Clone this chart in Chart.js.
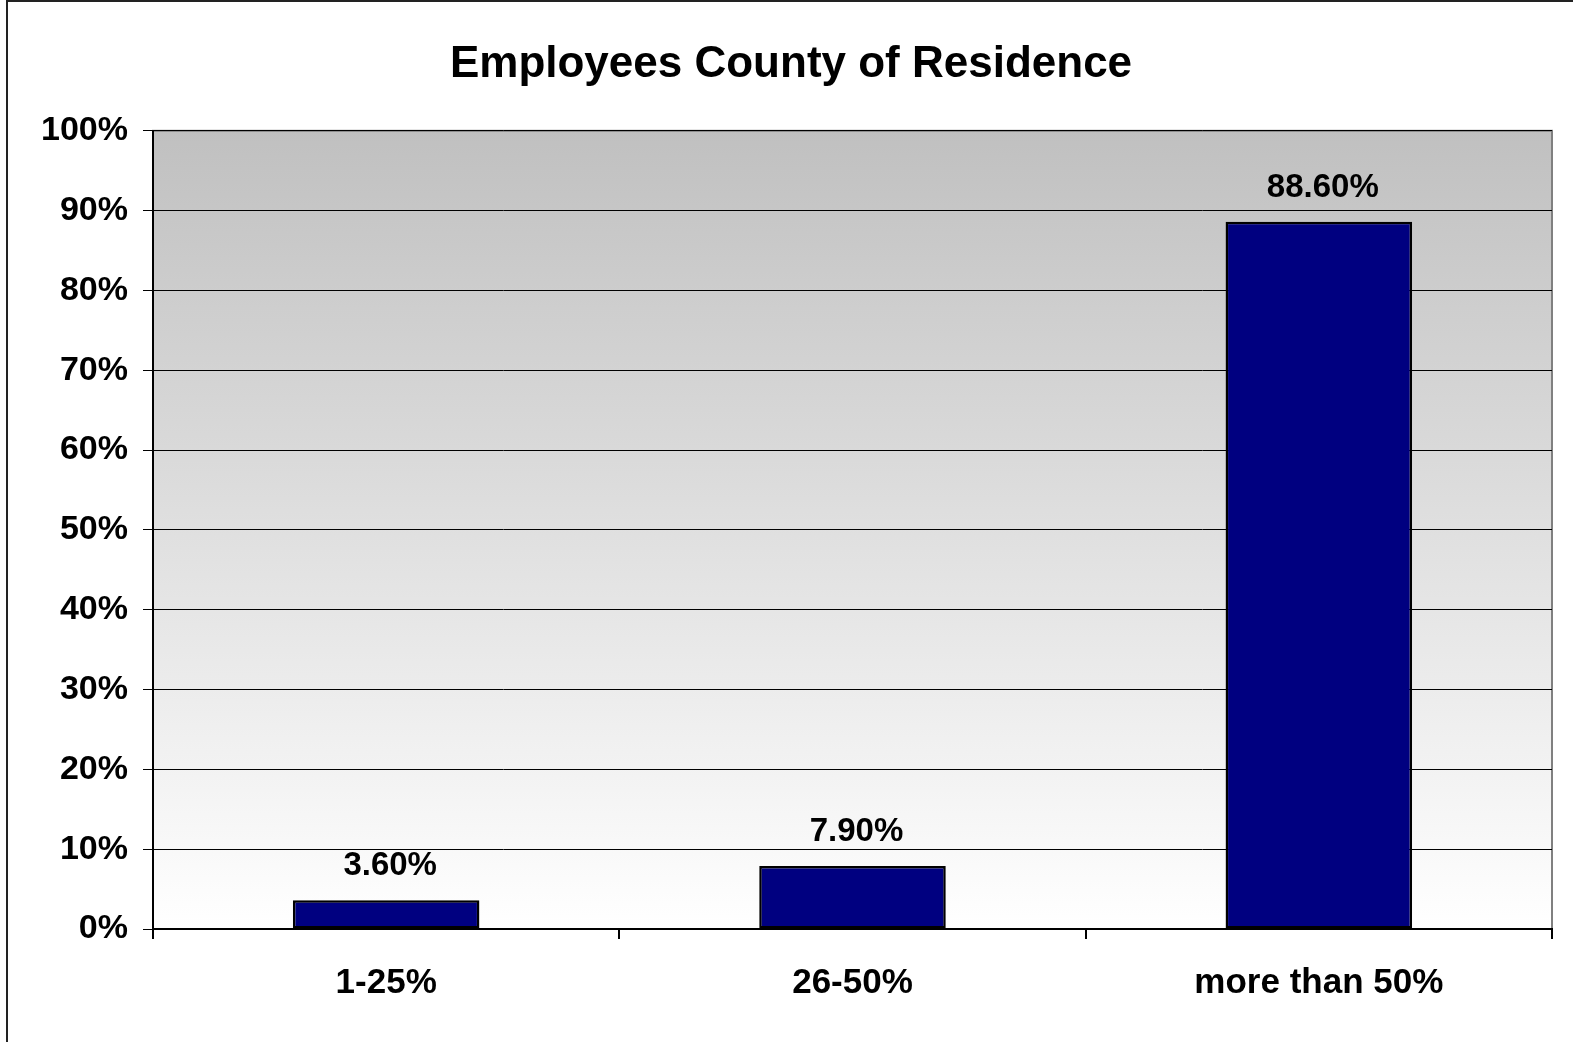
<!DOCTYPE html>
<html>
<head>
<meta charset="utf-8">
<script src="https://cdn.jsdelivr.net/npm/chart.js@4"></script>
<style>
    body { margin: 0; background: #fff; }
    canvas { display: block; }
</style>
</head>
<body>
<canvas id="ResidenceChart" width="1573" height="1042"></canvas>
<script>
const categories = ["1-25%", "26-50%", "more than 50%"];
const shares = [3.6, 7.9, 88.6];
const shareLabels = ["3.60%", "7.90%", "88.60%"];
const yTicks = [0, 10, 20, 30, 40, 50, 60, 70, 80, 90, 100];

const FONT = "'Liberation Sans', Arial, sans-serif";

// gradient plot background + outer frame + value labels
const excelLook = {
    id: "excelLook",
    beforeDraw(chart) {
        const { ctx, chartArea: a } = chart;
        ctx.save();
        const g = ctx.createLinearGradient(0, a.top, 0, a.bottom);
        g.addColorStop(0, "#c0c0c0");
        g.addColorStop(1, "#ffffff");
        ctx.fillStyle = g;
        ctx.fillRect(a.left, a.top, a.right - a.left, a.bottom - a.top);

        // plot border (gray)
        ctx.strokeStyle = "#808080";
        ctx.lineWidth = 2;
        ctx.strokeRect(a.left, a.top, a.right - a.left, a.bottom - a.top);

        // outer chart frame
        ctx.strokeStyle = "#222";
        ctx.lineWidth = 2;
        ctx.beginPath();
        ctx.moveTo(7, chart.height);
        ctx.lineTo(7, 1);
        ctx.lineTo(chart.width, 1);
        ctx.stroke();
        ctx.restore();
    },
    afterDatasetsDraw(chart) {
        const { ctx } = chart;
        const meta = chart.getDatasetMeta(0);
        ctx.save();
        ctx.fillStyle = "#000";
        ctx.font = "bold 33px " + FONT;
        ctx.textAlign = "center";
        ctx.textBaseline = "alphabetic";
        meta.data.forEach((bar, i) => {
            ctx.fillText(shareLabels[i], bar.x + 4, bar.y - 25);
        });
        ctx.restore();
    },
};

function ResidenceChart() {
    const ctx = document.getElementById("ResidenceChart");

    new Chart(ctx, {
        type: "bar",
        data: {
            labels: categories,
            datasets: [
                {
                    label: "Employees",
                    data: shares,
                    backgroundColor: "#000080",
                    borderColor: "#000000",
                    borderWidth: 2.5,
                    borderSkipped: false,
                    barPercentage: 0.4,
                    categoryPercentage: 1,
                },
            ],
        },
        options: {
            responsive: false,
            animation: false,
            layout: {
                padding: { left: 30, right: 21, top: 0, bottom: 0 },
            },
            plugins: {
                legend: { display: false },
                tooltip: { enabled: false },
                title: {
                    display: true,
                    text: "Employees County of Residence",
                    color: "#000",
                    font: { family: FONT, size: 44, weight: "bold" },
                    padding: { top: 38, bottom: 40 },
                },
            },
            scales: {
                x: {
                    grid: {
                        offset: true,
                        drawOnChartArea: false,
                        color: "#000",
                        tickLength: 10,
                        lineWidth: 2,
                    },
                    border: { color: "#000", width: 2 },
                    ticks: {
                        color: "#000",
                        padding: 23,
                        font: { family: FONT, size: 35, weight: "bold" },
                    },
                    afterFit(scale) {
                        scale.height = 113;
                    },
                },
                y: {
                    min: 0,
                    max: 100,
                    afterBuildTicks(scale) {
                        scale.ticks = yTicks.map((v) => ({ value: v }));
                    },
                    grid: {
                        color: "#000",
                        lineWidth: 1,
                        tickLength: 10,
                    },
                    border: { color: "#000", width: 2 },
                    ticks: {
                        color: "#000",
                        padding: 15,
                        font: { family: FONT, size: 34, weight: "bold" },
                        callback: (v) => v + "%",
                    },
                    afterFit(scale) {
                        scale.width = 123;
                    },
                },
            },
        },
        plugins: [excelLook],
    });
}

ResidenceChart();
</script>
</body>
</html>
